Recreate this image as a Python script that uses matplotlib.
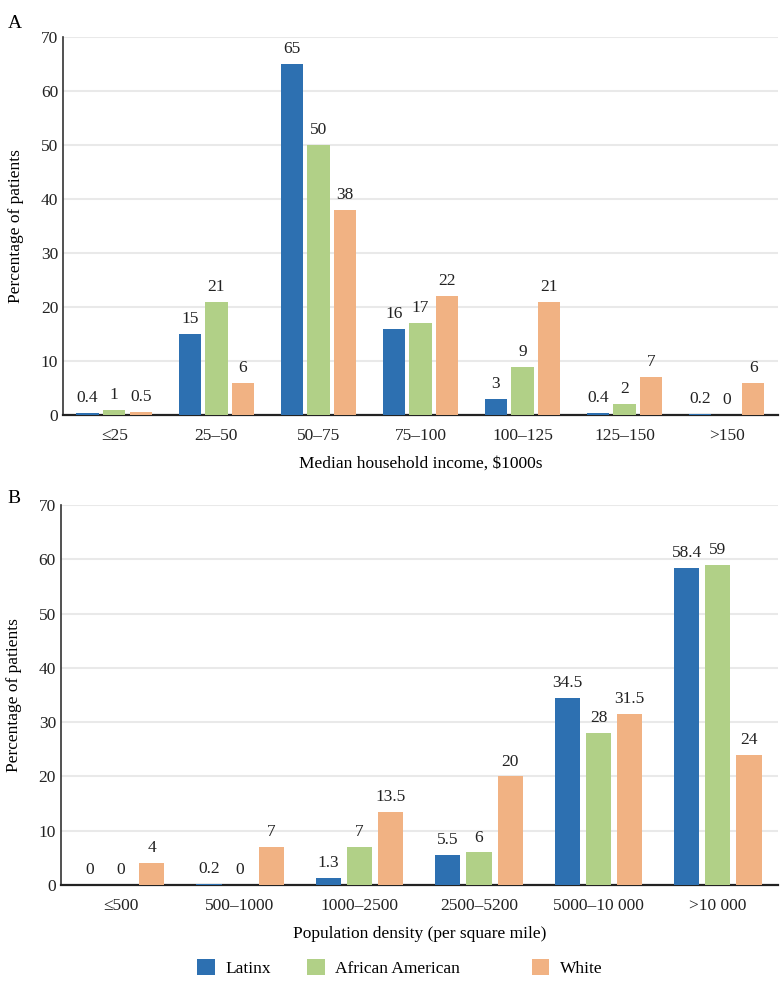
import matplotlib.pyplot as plt
import numpy as np
from matplotlib.patches import Patch

plt.rcParams['font.family'] = ['Liberation Serif', 'DejaVu Serif']

groups = ["Latinx", "African American", "White"]
colors = ["#2d70b1", "#b1d087", "#f1b283"]

income_cats = ["\u226425", "25\u201350", "50\u201375", "75\u2013100", "100\u2013125", "125\u2013150", ">150"]
income_latinx = [0.4, 15, 65, 16, 3, 0.4, 0.2]
income_afam = [1, 21, 50, 17, 9, 2, 0]
income_white = [0.5, 6, 38, 22, 21, 7, 6]
income_labels = [
    ["0.4", "15", "65", "16", "3", "0.4", "0.2"],
    ["1", "21", "50", "17", "9", "2", "0"],
    ["0.5", "6", "38", "22", "21", "7", "6"],
]

dens_cats = ["\u2264500", "500\u20131000", "1000\u20132500", "2500\u20135200", "5000\u201310 000", ">10 000"]
dens_latinx = [0, 0.2, 1.3, 5.5, 34.5, 58.4]
dens_afam = [0, 0, 7, 6, 28, 59]
dens_white = [4, 7, 13.5, 20, 31.5, 24]
dens_labels = [
    ["0", "0.2", "1.3", "5.5", "34.5", "58.4"],
    ["0", "0", "7", "6", "28", "59"],
    ["4", "7", "13.5", "20", "31.5", "24"],
]

fig = plt.figure(figsize=(7.8, 9.86), dpi=100)
ax1 = fig.add_axes([0.081, 0.579, 0.916, 0.3834])
ax2 = fig.add_axes([0.078, 0.1024, 0.919, 0.3854])


def draw(ax, cats, series, labels, xlabel, offset, width):
    x = np.arange(len(cats))
    for i, (vals, col) in enumerate(zip(series, colors)):
        pos = x + (i - 1) * offset
        ax.bar(pos, vals, width=width, color=col, linewidth=0, zorder=3)
        for p, v, lab in zip(pos, vals, labels[i]):
            ax.annotate(lab, (p, v), xytext=(0, 5), textcoords='offset points',
                        ha='center', va='bottom', fontsize=12.5, color='#222222')
    ax.set_xlim(-0.5, len(cats) - 0.5)
    ax.set_ylim(0, 70)
    ax.set_yticks(range(0, 71, 10))
    ax.set_xticks(x)
    ax.set_xticklabels(cats)
    ax.tick_params(axis='both', length=0, labelsize=12.5, colors='#222222')
    ax.tick_params(axis='x', pad=9)
    ax.grid(axis='y', color='#e9e9e9', linewidth=1.5, zorder=0)
    ax.set_axisbelow(True)
    for s in ['top', 'right']:
        ax.spines[s].set_visible(False)
    ax.spines['left'].set_color('#333333')
    ax.spines['left'].set_linewidth(1.2)
    ax.spines['bottom'].set_color('#222222')
    ax.spines['bottom'].set_linewidth(1.6)
    ax.set_ylabel("Percentage of patients", fontsize=12.5, labelpad=12)
    ax.set_xlabel(xlabel, fontsize=12.5, labelpad=9)


draw(ax1, income_cats, [income_latinx, income_afam, income_white], income_labels,
     "Median household income, $1000s", 0.26, 0.22)
draw(ax2, dens_cats, [dens_latinx, dens_afam, dens_white], dens_labels,
     "Population density (per square mile)", 0.26, 0.21)

fig.text(0.01, 0.985, "A", fontsize=14, va='top')
fig.text(0.01, 0.503, "B", fontsize=14, va='top')

# legend entries are spaced unevenly in the original, so place each one
legend_x = [0.253, 0.394, 0.682]
for name, col, lx in zip(groups, colors, legend_x):
    fig.legend([Patch(facecolor=col, edgecolor='none')], [name], loc='center left',
               bbox_to_anchor=(lx, 0.018), frameon=False, fontsize=12.5,
               handlelength=1.0, handleheight=1.0, handletextpad=0.6,
               borderpad=0, borderaxespad=0)

fig.savefig("out.png", dpi=100)
